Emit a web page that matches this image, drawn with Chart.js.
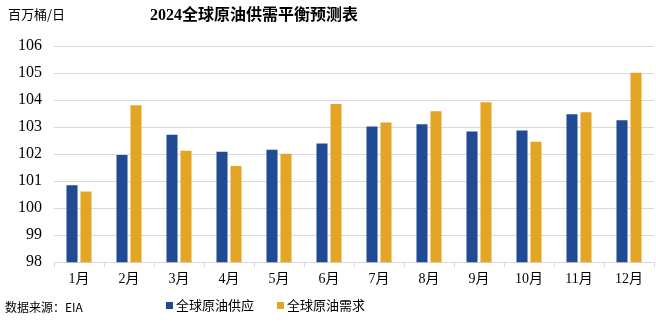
<!DOCTYPE html>
<html>
<head>
<meta charset="utf-8">
<script src="https://cdn.jsdelivr.net/npm/chart.js@4/dist/chart.umd.min.js"></script>
<style>
  html,body{margin:0;padding:0;background:#fff;}
  #wrap{position:relative;width:656px;height:323px;overflow:hidden;}
  #c{position:absolute;left:0;top:0;}
  .txt{position:absolute;white-space:nowrap;color:#000;font-family:"Noto Sans CJK SC",sans-serif;}
  #unit{left:8px;top:4px;font-size:13px;}
  #title{left:150px;top:1px;font-size:16px;font-weight:bold;font-family:"Liberation Serif","Noto Sans CJK SC",serif;}
  #src{left:5px;top:298px;font-size:12px;}
  #legend{position:absolute;left:166px;top:295px;font-family:"Noto Sans CJK SC",sans-serif;font-size:13px;}
  #legend span.item{margin-right:23px;}
  #legend i{display:inline-block;width:7px;height:7px;margin-right:3px;vertical-align:1px;}
</style>
</head>
<body>
<div id="wrap">
  <canvas id="c" width="656" height="323"></canvas>
  <div class="txt" id="unit">百万桶/日</div>
  <div class="txt" id="title">2024全球原油供需平衡预测表</div>
  <div class="txt" id="src">数据来源：EIA</div>
  <div id="legend"></div>
</div>
<script>
// 数据
const months = ['1月','2月','3月','4月','5月','6月','7月','8月','9月','10月','11月','12月'];
const supply = [100.85,101.97,102.72,102.09,102.16,102.39,103.02,103.10,102.84,102.87,103.47,103.25];
const demand = [100.62,103.81,102.12,101.56,102.01,103.85,103.17,103.59,103.92,102.46,103.55,105.01];
const seriesNames = ['全球原油供应','全球原油需求'];
const seriesColors = ['#214A94','#E2A526'];

// 图例
const legend = document.getElementById('legend');
seriesNames.forEach((n,i)=>{
    const s = document.createElement('span');
    s.className='item';
    s.innerHTML = `<i style="background:${seriesColors[i]}"></i>${n}`;
    legend.appendChild(s);
});

const ctx = document.getElementById('c').getContext('2d');
new Chart(ctx,{
    type:'bar',
    data:{
        labels:months,
        datasets:[
            { label:seriesNames[0], data:supply, backgroundColor:seriesColors[0], categoryPercentage:0.56, barPercentage:0.79 },
            { label:seriesNames[1], data:demand, backgroundColor:seriesColors[1], categoryPercentage:0.56, barPercentage:0.79 }
        ]
    },
    options:{
        responsive:false,
        animation:false,
        layout:{ padding:{ left:0, right:2, top:46, bottom:31 } },
        plugins:{ legend:{ display:false }, title:{ display:false }, tooltip:{ enabled:false } },
        scales:{
            x:{
                grid:{ display:true, drawOnChartArea:false, drawTicks:true, tickLength:5, color:'#d9d9d9' },
                border:{ color:'#d9d9d9' },
                ticks:{ color:'#000', padding:4, font:{ family:'"Liberation Serif","Noto Sans CJK SC",serif', size:14 } }
            },
            y:{
                min:98, max:106,
                afterFit:(s)=>{ s.width = 54; },
                grid:{ color:'#d9d9d9', drawTicks:false },
                border:{ display:false },
                ticks:{ stepSize:1, color:'#000', padding:12, font:{ family:'"Liberation Serif",serif', size:16 } }
            }
        }
    }
});
</script>
</body>
</html>
